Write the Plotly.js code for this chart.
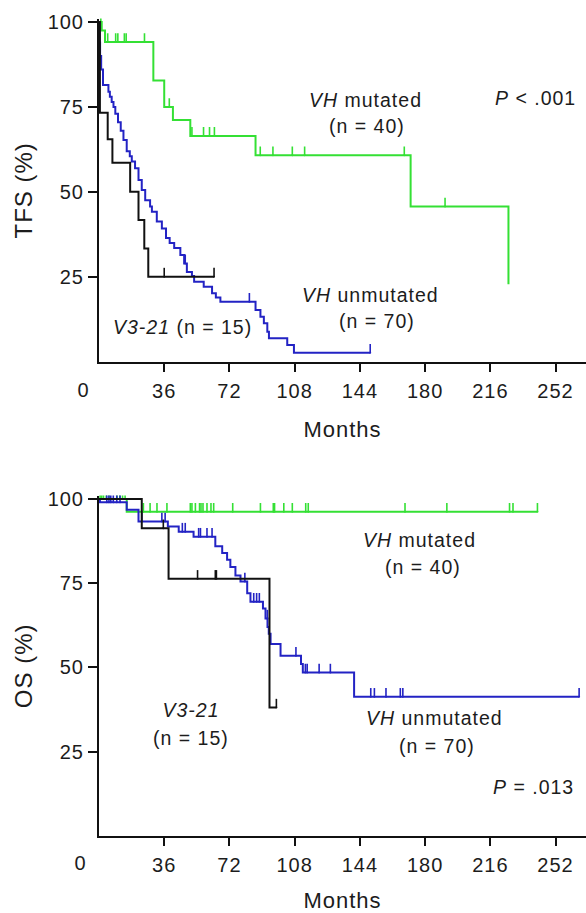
<!DOCTYPE html>
<html>
<head>
<meta charset="utf-8">
<script src="https://cdn.plot.ly/plotly-3.0.1.min.js"></script>
<style>
  html, body { margin: 0; padding: 0; background: #fff; }
  #chart { width: 586px; height: 913px; }
  .main-svg text { letter-spacing: 1px; }
</style>
</head>
<body>
<div id="chart"></div>
<script>
// ---- Treatment-free survival (TFS), Kaplan–Meier steps: months / % ----
const tfsMutatedT   = [0, 1.5, 3.3, 30, 36, 40.8, 50.4, 86.4, 172, 226];
const tfsMutatedS   = [100, 97.5, 94.1, 82.8, 75, 71.2, 66.5, 60.8, 45.7, 22.9];
const tfsMutatedCens = [1.0, 4.8, 9.2, 10.4, 14, 15, 25.1, 38.8, 51.3, 57.7, 61, 63.7, 89, 96, 106.7, 113.5, 168.5, 191];

const tfsUnmutT = [0, 0.3, 0.6, 1.2, 2.2, 5.2, 6, 7, 8, 9, 10.5, 12, 13.5, 15.3, 17, 18.1, 19.9, 21.8, 23.6, 25.5,
                   28.2, 29.2, 31.9, 34.7, 37, 39, 41.5, 44.9, 47, 48.5, 51.3, 52.5, 57.8, 62.4, 64.5, 67,
                   86.4, 89.1, 91, 92.9, 93.8, 103.9, 107.6, 149.7];
const tfsUnmutS = [100, 94, 90, 86, 81.5, 79.5, 78, 76.5, 75, 73, 70.5, 68, 65.3, 62, 60.5, 59, 57, 53.5, 50.6, 47.6,
                   45.7, 44.2, 41.3, 39.3, 36.5, 35, 33.5, 31.5, 29, 26.5, 25.3, 23.6, 22.1, 20.2, 19, 17.7,
                   15.3, 13.3, 11.4, 8.9, 7, 5, 2.7, 2.7];
const tfsUnmutCens = [47.6, 83, 149.7];

const tfsV321T = [0, 0.5, 4.8, 7.4, 17.2, 21.8, 25, 27.2, 63.5];
const tfsV321S = [100, 73.3, 65.5, 58.6, 50.1, 41.8, 33.4, 25.1, 25.1];
const tfsV321Cens = [36, 63.5];

// ---- Overall survival (OS) ----
const osMutatedT = [0, 15.3, 242];
const osMutatedS = [100, 96.2, 96.2];
const osMutatedCens = [0.6, 1.5, 2.5, 4, 5.5, 10, 11.5, 13, 14.4, 24.5, 28.2, 32, 37.5, 50.4, 51.3, 53.2, 55.5,
                       56.3, 57.4, 59.6, 61.8, 63.3, 73.8, 89.1, 96.2, 96.9, 102, 106.7, 114.1, 115.5, 168.9,
                       192, 226.6, 228.5, 242];

const osUnmutT = [0, 0.5, 15.3, 21.8, 38, 44, 52.2, 64.2, 68, 70.7, 72.5, 75.3, 78.1, 81.8, 83.6, 90.5, 91.9,
                  93, 93.7, 94.7, 100.2, 111.5, 112.5, 140.8, 265];
const osUnmutS = [100, 99, 96.8, 93.3, 91.8, 90.3, 88.8, 86, 84, 82, 79.8, 77.3, 75.5, 72, 69.5, 67.5, 64.5,
                  62, 60, 57, 53.5, 51, 48.5, 41.3, 41.3];
const osUnmutCens = [4.3, 5.5, 6.5, 7.9, 9.8, 11.6, 23.6, 34.7, 36.5, 46, 47.6, 55, 56, 59.6, 62.4, 80.5, 85.4,
                     87, 88.5, 92.9, 108.7, 113.9, 114.9, 121.5, 127.7, 150, 152, 158.4, 166.3, 167.7, 265];

const osV321T = [0, 23.6, 38.4, 94.1, 97.9];
const osV321S = [100, 91.3, 76.3, 38.1, 38.1];
const osV321Cens = [35.5, 54.4, 64.2, 64.8, 97.9];

const monthTicks = [36, 72, 108, 144, 180, 216, 252];
const pctTicks = [25, 50, 75, 100];

// ---- styling ----
const GREEN = '#34e034';
const BLUE = '#2323c4';
const BLACK = '#111111';
const TXT = '#1c1c1c';
const FONT = 'Liberation Sans, Arial, Helvetica, sans-serif';
const CENSOR_LEN = 2.6;   // censor tick height in % units

// survival value of a step curve at time t
function stepAt(T, S, t) {
  let v = S[0];
  for (let i = 0; i < T.length; i++) { if (T[i] <= t) v = S[i]; }
  return v;
}

function curve(T, S, color, xa, ya) {
  return { x: T, y: S, type: 'scatter', mode: 'lines', line: { shape: 'hv', color: color, width: 2 },
           xaxis: xa, yaxis: ya, hoverinfo: 'skip' };
}

function censors(T, S, C, color, xa, ya) {
  return { x: C, y: C.map(t => stepAt(T, S, t)), type: 'scatter', mode: 'markers',
           marker: { size: 2, color: color },
           error_y: { type: 'data', symmetric: false, array: C.map(() => CENSOR_LEN),
                      arrayminus: C.map(() => 0), width: 0, thickness: 1.6, color: color },
           xaxis: xa, yaxis: ya, hoverinfo: 'skip' };
}

const data = [
  curve(tfsMutatedT, tfsMutatedS, GREEN, 'x', 'y'),
  censors(tfsMutatedT, tfsMutatedS, tfsMutatedCens, GREEN, 'x', 'y'),
  curve(tfsUnmutT, tfsUnmutS, BLUE, 'x', 'y'),
  censors(tfsUnmutT, tfsUnmutS, tfsUnmutCens, BLUE, 'x', 'y'),
  curve(tfsV321T, tfsV321S, BLACK, 'x', 'y'),
  censors(tfsV321T, tfsV321S, tfsV321Cens, BLACK, 'x', 'y'),

  curve(osMutatedT, osMutatedS, GREEN, 'x2', 'y2'),
  censors(osMutatedT, osMutatedS, osMutatedCens, GREEN, 'x2', 'y2'),
  curve(osUnmutT, osUnmutS, BLUE, 'x2', 'y2'),
  censors(osUnmutT, osUnmutS, osUnmutCens, BLUE, 'x2', 'y2'),
  curve(osV321T, osV321S, BLACK, 'x2', 'y2'),
  censors(osV321T, osV321S, osV321Cens, BLACK, 'x2', 'y2')
];

const W = 586, H = 913;
const px = x => x / W;
const py = y => 1 - y / H;

function xAxis(anchor) {
  return {
    anchor: anchor, domain: [px(99), 1], range: [0, 268.8],
    tickvals: monthTicks, ticks: 'outside', ticklen: 8, tickwidth: 2, tickcolor: BLACK,
    ticklabelstandoff: 2,
    showline: true, linewidth: 2, linecolor: BLACK, showgrid: false, zeroline: false,
    tickfont: { family: FONT, size: 20, color: TXT },
    title: { text: 'Months', font: { family: FONT, size: 22, color: TXT }, standoff: 21 }
  };
}
function yAxis(anchor, dom, label) {
  return {
    anchor: anchor, domain: dom, range: [0, 101],
    tickvals: pctTicks, ticks: 'outside', ticklen: 9, tickwidth: 2, tickcolor: BLACK,
    showline: true, linewidth: 2, linecolor: BLACK, showgrid: false, zeroline: false,
    tickfont: { family: FONT, size: 20, color: TXT },
    title: { text: label, font: { family: FONT, size: 24, color: TXT }, standoff: 11 }
  };
}

function note(text, x, y, extra) {
  return Object.assign({ text: text, xref: 'paper', yref: 'paper', x: px(x), y: py(y),
    xanchor: 'center', yanchor: 'middle', showarrow: false,
    font: { family: FONT, size: 19.5, color: TXT } }, extra || {});
}

const annotations = [
  note('<i>VH</i> mutated', 365, 100),
  note('(n = 40)', 367, 126),
  note('<i>P</i> < .001', 535, 98),
  note('<i>VH</i> unmutated', 370, 295),
  note('(n = 70)', 377, 321),
  note('<i>V3-21</i> (n = 15)', 182, 327),

  note('<i>VH</i> mutated', 419, 540),
  note('(n = 40)', 423, 567),
  note('<i>V3-21</i>', 191, 710),
  note('(n = 15)', 191, 738),
  note('<i>VH</i> unmutated', 434, 718),
  note('(n = 70)', 437, 746),
  note('<i>P</i> = .013', 533, 787),

  // origin labels sit left of the corner
  { text: '0', xref: 'x', yref: 'paper', x: 0, xshift: -15, y: py(390), xanchor: 'center', yanchor: 'middle',
    showarrow: false, font: { family: FONT, size: 20, color: TXT } },
  { text: '0', xref: 'x2', yref: 'paper', x: 0, xshift: -18, y: py(863), xanchor: 'center', yanchor: 'middle',
    showarrow: false, font: { family: FONT, size: 20, color: TXT } }
];

const layout = {
  width: W, height: H, margin: { l: 0, r: 0, t: 0, b: 0 },
  paper_bgcolor: '#ffffff', plot_bgcolor: '#ffffff', showlegend: false,
  xaxis: xAxis('y'),
  yaxis: yAxis('x', [py(362), py(18.6)], 'TFS (%)'),
  xaxis2: xAxis('y2'),
  yaxis2: yAxis('x2', [py(836), py(495.6)], 'OS (%)'),
  annotations: annotations
};

Plotly.newPlot('chart', data, layout, { staticPlot: true, displayModeBar: false });
</script>
</body>
</html>
